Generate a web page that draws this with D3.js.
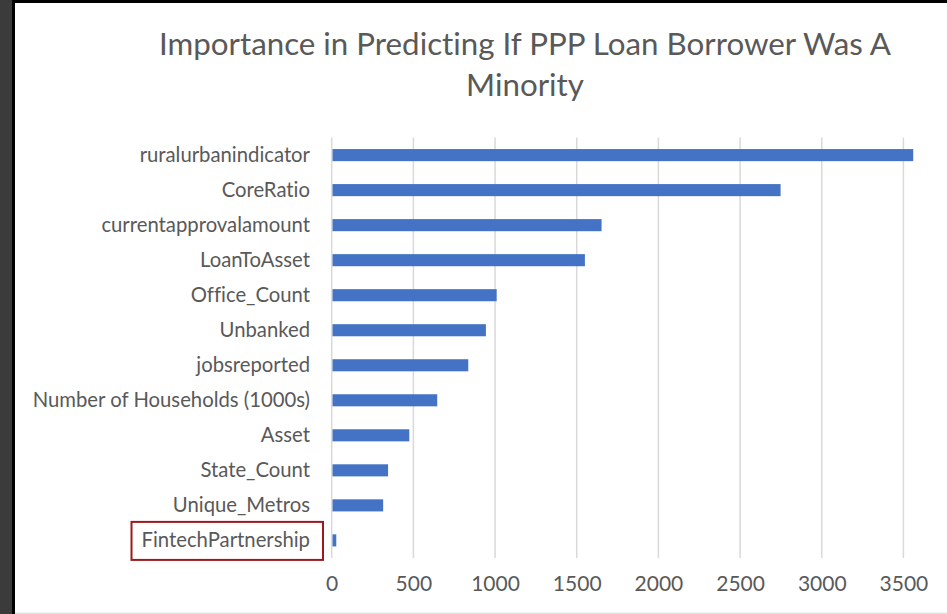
<!DOCTYPE html>
<html>
<head>
<meta charset="utf-8">
<script src="https://cdn.jsdelivr.net/npm/d3@7"></script>
<style>
  html, body { margin: 0; padding: 0; background: #3b3b3b; }
  svg { display: block; }
  text { font-variant-ligatures: none; }
</style>
</head>
<body>
<script>
// Feature importance for predicting whether a PPP loan borrower was a minority
const features = [
  "ruralurbanindicator",
  "CoreRatio",
  "currentapprovalamount",
  "LoanToAsset",
  "Office_Count",
  "Unbanked",
  "jobsreported",
  "Number of Households (1000s)",
  "Asset",
  "State_Count",
  "Unique_Metros",
  "FintechPartnership"
];
const importance = [3560, 2748, 1652, 1550, 1010, 944, 836, 646, 475, 345, 315, 28];
const tickValues = [0, 500, 1000, 1500, 2000, 2500, 3000, 3500];
const titleLines = ["Importance in Predicting If PPP Loan Borrower Was A", "Minority"];
const highlighted = "FintechPartnership";

const W = 947, H = 614;
const textColor = "#595959";
const font = "Lato, 'Open Sans', sans-serif";

const svg = d3.select("body").append("svg")
  .attr("width", W).attr("height", H);

// window frame: dark strip on the left, black edge lines, white chart area
svg.append("rect").attr("x", 0).attr("y", 0).attr("width", W).attr("height", H).attr("fill", "#3b3b3b");
svg.append("rect").attr("x", 12).attr("y", 0).attr("width", W - 12).attr("height", H).attr("fill", "#000");
svg.append("rect").attr("x", 15).attr("y", 3).attr("width", W - 15).attr("height", 610).attr("fill", "#fff");
svg.append("rect").attr("x", 15).attr("y", 612.5).attr("width", W - 15).attr("height", 1.5).attr("fill", "#e3e3e3");

// scales
const x = d3.scaleLinear().domain([0, 4000]).range([331.7, 331.7 + 4000 * 0.16335]);
const y = d3.scaleBand().domain(features).range([137.5, 558]).paddingInner(0.655).paddingOuter(0.33);

// vertical gridlines
svg.append("g")
  .selectAll("line")
  .data(tickValues)
  .join("line")
  .attr("x1", d => x(d)).attr("x2", d => x(d))
  .attr("y1", 137.5).attr("y2", 558)
  .attr("stroke", "#d9d9d9")
  .attr("stroke-width", 1.5);

// bars
svg.append("g")
  .selectAll("rect")
  .data(features)
  .join("rect")
  .attr("x", x(0) + 0.8)
  .attr("y", d => y(d))
  .attr("width", (d, i) => x(importance[i]) - x(0) - 0.8)
  .attr("height", y.bandwidth())
  .attr("fill", "#4472c4");

// category axis
const yAxis = svg.append("g")
  .attr("transform", "translate(310,0)")
  .call(d3.axisLeft(y).tickSize(0).tickPadding(0));
yAxis.select(".domain").remove();
yAxis.selectAll("text")
  .attr("fill", textColor)
  .style("font-family", font)
  .style("font-size", "20.3px");

// value axis
const xAxis = svg.append("g")
  .attr("transform", "translate(0,576)")
  .call(d3.axisBottom(x).tickValues(tickValues).tickSize(0).tickPadding(0).tickFormat(d3.format("d")));
xAxis.select(".domain").remove();
xAxis.selectAll("text")
  .attr("dy", "0.71em")
  .attr("fill", textColor)
  .style("font-family", font)
  .style("font-size", "21px");

// title
svg.append("g")
  .selectAll("text")
  .data(titleLines)
  .join("text")
  .attr("x", 525)
  .attr("y", (d, i) => 55 + i * 41)
  .attr("text-anchor", "middle")
  .attr("fill", textColor)
  .style("font-family", font)
  .style("font-size", "31.3px")
  .text(d => d);

// highlight box around one category label
const hy = y(highlighted) + y.bandwidth() / 2;
svg.append("rect")
  .attr("x", 131.5)
  .attr("y", hy - 18.5)
  .attr("width", 191.5)
  .attr("height", 38)
  .attr("fill", "none")
  .attr("stroke", "#9c1a1f")
  .attr("stroke-width", 2);
</script>
</body>
</html>
